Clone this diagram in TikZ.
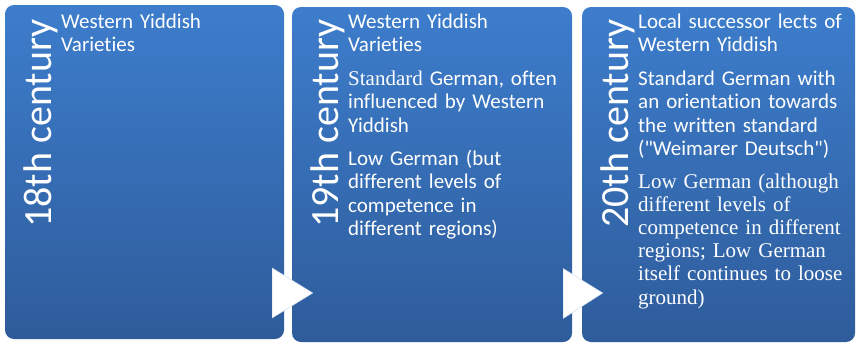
\documentclass[tikz,border=0pt]{standalone}
\usepackage{fontspec}
\setmainfont{Carlito}[Ligatures={NoCommon,TeXOff}]
\newfontfamily\seriffont{Liberation Serif}[Ligatures={NoCommon,TeXOff}]
\usetikzlibrary{calc}
\definecolor{boxtop}{RGB}{61,125,204}
\definecolor{boxbot}{RGB}{46,92,155}
\tikzset{
  periodbox/.style={draw=none, rounded corners=9pt, top color=boxtop, bottom color=boxbot, inner sep=0pt},
  century/.style={text=white, rotate=90, anchor=base, inner sep=0pt, font=\fontsize{40}{44}\selectfont},
  entry/.style={text=white, anchor=base west, inner sep=0pt, text width=218pt, align=left,
    font=\fontsize{21}{23.5}\selectfont},
  stepnext/.style={fill=white, draw={rgb,255:red,200;green,215;blue,235}, line width=0.4pt, line join=round}
}
\begin{document}
\begin{tikzpicture}[x=1pt,y=-1pt]
\useasboundingbox (0,0) rectangle (857,343);
% boxes
\node[periodbox, minimum width=279pt, minimum height=334pt] (b1) at (144.5,172) {};
\node[periodbox, minimum width=280pt, minimum height=335pt] (b2) at (432,174.5) {};
\node[periodbox, minimum width=273pt, minimum height=335pt] (b3) at (718.5,174.5) {};
% arrows
\draw[stepnext] ($(b1.east)+(-12,96)$) -- ++(0,50) -- ($(b2.west)+(21,118.5)$) -- cycle;
\draw[stepnext] ($(b2.east)+(-9,94)$) -- ++(0,50) -- ($(b3.west)+(21,118.5)$) -- cycle;
% century labels
\node[century] (c1) at (51,123.5) {18th century};
\node[century] (c2) at (338,123.5) {19th century};
\node[century] (c3) at (628,123.5) {20th century};
% box 1
\node[entry] (t11) at (61,28) {Western Yiddish\\Varieties};
% box 2
\node[entry] (t21) at (348,28) {Western Yiddish\\Varieties};
\node[entry] (t22) at (348,85) {{\seriffont Standard} German, often\\influenced by Western\\Yiddish};
\node[entry] (t23) at (348,165) {Low German (but\\different levels of\\competence in\\different regions)};
% box 3
\node[entry] (t31) at (638,28) {Local successor lects of\\Western Yiddish};
\node[entry] (t32) at (638,85) {Standard German with\\an orientation towards\\the written standard\\("Weimarer Deutsch")};
\node[entry, font=\seriffont\fontsize{21}{23.2}\selectfont] (t33) at (638,188) {Low German (although\\different levels of\\competence in different\\regions; Low German\\itself continues to loose\\ground)};
\end{tikzpicture}
\end{document}
